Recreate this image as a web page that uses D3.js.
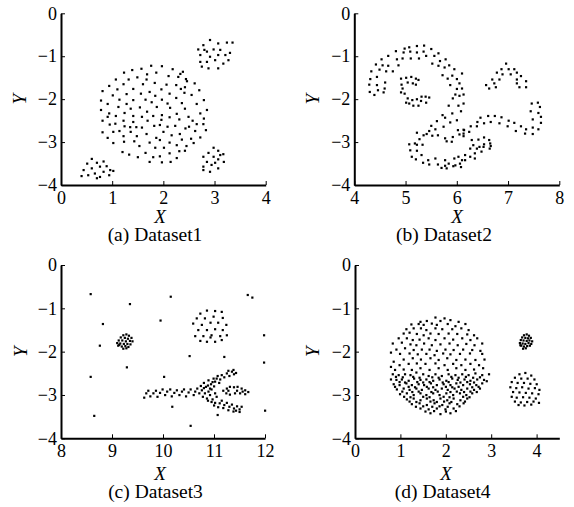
<!DOCTYPE html>
<html>
<head>
<meta charset="utf-8">
<script src="https://cdn.jsdelivr.net/npm/d3@7"></script>
<style>
  body { margin: 0; background: #fff; }
  text { font-family: "Liberation Serif", "Times New Roman", serif; fill: #000; }
</style>
</head>
<body>
<script>
const yTicks = [0, -1, -2, -3, -4];
const xTicks1 = [0, 1, 2, 3, 4];
const xTicks2 = [4, 5, 6, 7, 8];
const xTicks3 = [8, 9, 10, 11, 12];
const xTicks4 = [0, 1, 2, 3, 4];

// Dataset1: big disc + three small blobs
const dataset1 = [
  [1.76,-1.22],[1.97,-1.23],[1.39,-1.32],[1.57,-1.29],[2.18,-1.30],[1.23,-1.38],[1.68,-1.42],[1.86,-1.38],
  [2.38,-1.36],[1.32,-1.54],[1.49,-1.49],[2.10,-1.46],[2.29,-1.48],[1.07,-1.54],[1.67,-1.54],[2.44,-1.53],
  [0.94,-1.69],[1.22,-1.65],[1.60,-1.65],[1.83,-1.62],[2.06,-1.66],[2.25,-1.67],[1.10,-1.77],[1.41,-1.76],
  [1.73,-1.83],[1.96,-1.77],[2.34,-1.76],[0.81,-1.81],[1.01,-1.91],[1.28,-1.88],[1.56,-1.87],[1.84,-1.92],
  [2.12,-1.87],[2.41,-1.85],[0.78,-2.03],[1.14,-2.01],[1.41,-2.02],[1.65,-2.01],[1.97,-2.01],[2.25,-1.97],
  [0.91,-2.11],[1.28,-2.11],[1.77,-2.07],[2.08,-2.10],[2.36,-2.09],[0.78,-2.25],[1.12,-2.18],[1.36,-2.22],
  [1.54,-2.19],[1.87,-2.18],[2.13,-2.20],[2.42,-2.22],[1.68,-2.29],[0.94,-2.33],[1.24,-2.32],[1.41,-2.39],
  [1.97,-2.37],[2.26,-2.34],[1.80,-2.39],[0.91,-2.41],[1.07,-2.39],[1.58,-2.41],[2.12,-2.42],[2.49,-2.41],
  [0.81,-2.50],[1.22,-2.50],[1.41,-2.53],[1.69,-2.50],[1.96,-2.48],[2.31,-2.47],[0.95,-2.59],[1.06,-2.57],
  [1.35,-2.65],[1.58,-2.66],[1.82,-2.62],[2.08,-2.64],[2.50,-2.64],[1.24,-2.63],[1.47,-2.65],[1.93,-2.60],
  [2.23,-2.62],[2.43,-2.68],[0.81,-2.77],[1.02,-2.76],[1.14,-2.74],[1.36,-2.76],[1.67,-2.81],[2.00,-2.76],
  [2.16,-2.84],[2.32,-2.81],[0.91,-2.90],[1.22,-2.86],[1.48,-2.86],[1.86,-2.90],[2.36,-2.94],[1.02,-3.02],
  [1.23,-2.99],[1.43,-2.98],[1.73,-3.01],[1.93,-2.95],[2.12,-3.01],[2.26,-3.07],[1.53,-3.09],[1.84,-3.13],
  [2.01,-3.13],[2.45,-3.09],[1.20,-3.23],[1.33,-3.29],[1.65,-3.25],[2.12,-3.26],[2.31,-3.21],[1.50,-3.35],
  [1.80,-3.35],[1.93,-3.33],[2.26,-3.37],[1.73,-3.46],[1.97,-3.47],[2.14,-3.46],
  [2.33,-1.41],[2.46,-1.58],[2.61,-1.63],[2.70,-1.79],[2.55,-1.90],[2.42,-1.72],[2.79,-2.02],[2.65,-2.11],
  [2.85,-2.25],[2.72,-2.33],[2.57,-2.50],[2.79,-2.45],[2.65,-2.58],[2.83,-2.72],[2.62,-2.74],[2.72,-2.89],
  [2.54,-2.92],[2.42,-3.20],[2.59,-3.02],[2.78,-2.58],
  [2.91,-0.62],[2.78,-0.74],[3.07,-0.70],[3.24,-0.68],[3.35,-0.68],[2.68,-0.84],[2.85,-0.89],[2.98,-0.84],
  [3.11,-0.85],[3.30,-0.92],[2.72,-0.97],[2.91,-1.01],[3.07,-0.97],[3.21,-0.97],[2.72,-1.13],[2.85,-1.13],
  [3.01,-1.09],[3.17,-1.17],[2.75,-1.24],[2.88,-1.28],[3.07,-1.28],[3.27,-1.09],[2.80,-0.85],
  [2.98,-3.13],[3.07,-3.20],[2.88,-3.25],[3.17,-3.28],[2.78,-3.34],[2.98,-3.34],[3.07,-3.40],[2.85,-3.46],
  [3.18,-3.46],[2.78,-3.57],[2.94,-3.53],[3.07,-3.61],[2.78,-3.65],[2.91,-3.69],[3.01,-3.48],[3.11,-3.30],
  [0.60,-3.39],[0.51,-3.50],[0.70,-3.48],[0.83,-3.45],[0.89,-3.56],[0.76,-3.57],[0.60,-3.61],[0.44,-3.65],
  [0.96,-3.65],[0.83,-3.69],[0.66,-3.73],[0.53,-3.77],[0.40,-3.79],[0.76,-3.81],[0.94,-3.77],[1.02,-3.67],
  [0.70,-3.84]
];

// Dataset2: spiral hook, S band and small arch
const dataset2 = [
  [4.98,-0.82],[5.07,-0.79],[5.22,-0.76],[5.36,-0.75],[5.09,-0.89],[5.22,-0.91],[5.35,-0.89],[5.50,-0.83],
  [5.64,-0.93],[5.56,-0.99],[5.40,-0.99],[5.26,-1.05],[5.10,-1.05],[4.94,-1.05],[4.81,-0.88],[4.66,-0.99],
  [4.83,-1.07],[4.96,-0.91],[4.53,-1.07],[4.42,-1.19],[4.55,-1.21],[4.66,-1.22],[4.33,-1.35],[4.49,-1.31],
  [4.62,-1.35],[4.75,-1.35],[4.86,-1.21],[5.52,-1.17],[5.67,-1.11],[5.78,-1.07],[5.64,-1.22],[5.76,-1.26],
  [5.85,-1.21],[5.95,-1.30],[5.72,-1.44],[5.82,-1.52],[5.91,-1.45],[6.00,-1.53],[6.10,-1.40],[5.87,-1.67],
  [6.00,-1.76],[6.10,-1.75],[6.05,-1.63],[5.97,-1.89],[6.05,-1.92],[6.13,-1.89],[5.92,-1.98],[6.03,-2.15],
  [6.13,-2.10],[6.08,-2.28],[5.84,-2.15],[5.72,-2.37],[5.91,-2.33],[5.77,-2.43],[5.87,-2.54],[6.00,-2.49],
  [5.61,-2.51],[5.74,-2.64],[5.50,-2.62],[5.58,-2.70],[5.46,-2.74],[5.63,-2.84],[5.52,-2.85],[5.41,-2.81],
  [5.22,-2.78],[5.35,-2.84],[5.27,-2.93],[5.18,-3.03],[5.07,-3.05],[5.22,-3.06],[5.33,-3.06],[5.09,-3.19],
  [5.22,-3.20],[5.12,-3.34],[5.31,-3.30],[5.44,-3.42],[5.58,-3.38],[5.46,-3.52],[5.63,-3.52],[5.77,-3.42],
  [5.77,-3.55],[5.95,-3.38],[5.97,-3.54],[6.10,-3.42],[6.08,-3.58],[5.80,-2.98],[5.90,-2.99],[5.77,-2.91],
  [5.92,-2.88],[6.05,-2.82],[6.02,-2.72],[6.13,-2.71],[6.13,-2.80],[5.20,-3.40],[5.34,-3.48],[5.70,-3.60],
  [5.84,-3.50],
  [4.31,-1.53],[4.29,-1.66],[4.30,-1.83],[4.39,-1.90],[4.44,-1.67],[4.46,-1.79],[4.57,-1.84],[4.59,-1.75],
  [4.60,-1.61],[4.44,-1.48],
  [4.91,-1.52],[5.01,-1.50],[5.11,-1.48],[5.20,-1.52],[5.25,-1.55],[4.92,-1.66],[5.04,-1.61],[5.14,-1.63],
  [5.20,-1.66],[4.94,-1.75],[4.98,-1.87],[4.91,-1.84],[5.04,-1.98],[5.13,-2.02],[5.22,-2.00],[5.31,-1.94],
  [5.39,-1.94],[5.46,-1.96],[5.40,-2.08],[5.30,-2.04],[5.07,-2.10],[5.15,-2.15],[5.25,-2.15],[5.01,-2.08],
  [6.96,-1.17],[6.87,-1.30],[7.01,-1.30],[7.12,-1.30],[6.78,-1.38],[6.89,-1.42],[7.05,-1.42],[7.17,-1.38],
  [7.25,-1.46],[6.69,-1.54],[6.83,-1.54],[7.17,-1.54],[6.73,-1.63],[6.57,-1.67],[6.63,-1.75],[6.76,-1.72],
  [7.17,-1.63],[7.35,-1.58],[7.22,-1.72],[7.35,-1.72],
  [7.46,-2.10],[7.58,-2.08],[7.62,-2.18],[7.44,-2.28],[7.59,-2.32],[7.64,-2.41],[7.48,-2.47],[7.64,-2.55],
  [7.48,-2.66],[7.59,-2.70],[7.35,-2.70],[7.48,-2.81],
  [6.46,-2.43],[6.61,-2.39],[6.74,-2.39],[6.87,-2.42],[7.01,-2.50],[7.12,-2.55],[7.25,-2.63],[6.40,-2.53],
  [6.53,-2.56],[6.66,-2.53],[6.83,-2.56],[6.99,-2.63],[7.15,-2.74],[6.27,-2.63],[6.39,-2.63],[6.24,-2.76],
  [6.14,-2.72],[6.13,-2.86],[7.33,-2.80],
  [6.53,-2.89],[6.42,-2.94],[6.63,-2.95],[6.53,-3.05],[6.66,-3.09],[6.32,-3.07],[6.44,-3.11],
  [6.29,-2.95],[6.65,-3.03],[6.64,-3.15],[6.52,-3.11],[6.39,-3.15],[6.48,-3.22],[6.35,-3.26],[6.26,-3.34],
  [6.35,-3.38],[6.16,-3.42],[6.06,-3.50],[6.16,-3.30],[6.26,-3.15],[5.93,-3.56],[5.80,-3.61],[6.03,-3.34]
];

// Dataset3: noise points, small dense blob, disc and forked band
const dataset3 = [
  [8.58,-0.67],[10.15,-0.73],[11.66,-0.69],[11.75,-0.75],[9.35,-0.90],[8.82,-1.36],[9.95,-1.28],[8.76,-1.86],
  [9.29,-2.36],[8.58,-2.58],[10.02,-2.58],[10.52,-2.10],[11.20,-2.12],[11.98,-1.62],[11.98,-2.25],[8.65,-3.48],
  [10.18,-3.27],[10.54,-3.71],[11.07,-3.46],[12.00,-3.36],
  [9.22,-1.62],[9.28,-1.60],[9.33,-1.63],[9.17,-1.67],[9.25,-1.68],[9.31,-1.70],[9.38,-1.68],[9.13,-1.74],
  [9.20,-1.74],[9.27,-1.76],[9.35,-1.75],[9.40,-1.76],[9.10,-1.80],[9.16,-1.81],[9.23,-1.82],[9.30,-1.82],
  [9.36,-1.83],[9.12,-1.86],[9.19,-1.88],[9.26,-1.87],[9.32,-1.89],[9.22,-1.93],[9.14,-1.84],[9.28,-1.92],
  [10.73,-1.12],[10.86,-1.05],[11.02,-1.06],[11.15,-1.08],[10.66,-1.23],[10.82,-1.23],[10.99,-1.19],[11.17,-1.22],
  [10.59,-1.35],[10.76,-1.38],[10.93,-1.33],[11.08,-1.33],[11.24,-1.38],[10.69,-1.50],[10.86,-1.50],[11.02,-1.48],
  [11.17,-1.50],[10.63,-1.64],[10.79,-1.64],[10.95,-1.62],[11.12,-1.64],[11.25,-1.62],[10.73,-1.75],[10.86,-1.77],
  [11.02,-1.77],[11.15,-1.73],[10.93,-1.67],
  [9.63,-3.06],[9.67,-2.96],[9.71,-2.90],[9.75,-3.03],[9.81,-2.96],[9.86,-2.90],[9.89,-3.04],[9.94,-2.95],
  [9.99,-2.87],[10.04,-3.00],[10.08,-2.92],[10.14,-2.87],[10.17,-3.03],[10.22,-2.95],[10.27,-2.89],[10.32,-3.00],
  [10.37,-2.92],[10.41,-2.87],[10.45,-3.03],[10.50,-2.94],[10.54,-2.87],[10.60,-3.00],[10.63,-2.92],[10.67,-2.85],
  [10.71,-2.96],[10.76,-2.89],[10.78,-3.04],
  [10.74,-2.79],[10.80,-2.72],[10.84,-2.81],[10.89,-2.66],[10.94,-2.75],[10.99,-2.62],[11.02,-2.69],[11.07,-2.56],
  [11.12,-2.64],[11.15,-2.54],[11.20,-2.59],[11.25,-2.50],[11.30,-2.56],[11.35,-2.46],[11.39,-2.52],[11.43,-2.49],
  [11.28,-2.44],[11.38,-2.42],[10.89,-2.92],[10.95,-2.87],[10.80,-2.84],[10.88,-2.78],[10.97,-2.70],[11.05,-2.62],
  [11.10,-2.72],[11.00,-2.80],[10.92,-2.85],
  [10.82,-2.96],[10.86,-3.08],[10.92,-3.00],[10.97,-3.10],[11.02,-2.96],[11.05,-3.04],
  [10.95,-3.16],[11.02,-3.18],[11.11,-3.19],[11.15,-3.13],[11.20,-3.23],[11.25,-3.18],[11.30,-3.27],[11.35,-3.22],
  [11.39,-3.31],[11.45,-3.26],[11.50,-3.33],[11.54,-3.27],[11.43,-3.36],[11.50,-3.39],[10.88,-3.13],[11.00,-3.24],
  [11.08,-3.28],[11.18,-3.30],[11.28,-3.35],[11.38,-3.38],
  [11.18,-2.90],[11.25,-2.85],[11.31,-2.81],[11.39,-2.82],[11.46,-2.81],[11.54,-2.85],[11.61,-2.89],[11.67,-2.93],
  [11.61,-2.98],[11.51,-2.96],[11.41,-2.96],[11.31,-2.99],[11.24,-2.96],[11.28,-2.90],[11.45,-2.90],[11.56,-2.92]
];

// Dataset4: big disc (denser lower half), small dense blob, small disc
const dataset4 = [
  [1.77,-1.21],[1.97,-1.23],[1.44,-1.31],[1.58,-1.29],[1.88,-1.29],[2.10,-1.27],[2.28,-1.31],
  [1.24,-1.37],[1.40,-1.36],[1.51,-1.38],[1.69,-1.35],[1.80,-1.38],[2.04,-1.36],[2.21,-1.41],[2.43,-1.36],
  [1.13,-1.48],[1.29,-1.46],[1.45,-1.46],[1.57,-1.50],[1.77,-1.46],[1.92,-1.48],[2.14,-1.48],[2.34,-1.46],[2.50,-1.50],
  [1.07,-1.58],[1.20,-1.56],[1.36,-1.59],[1.51,-1.62],[1.66,-1.58],[1.84,-1.59],[2.06,-1.58],[2.25,-1.59],[2.47,-1.60],[2.62,-1.62],
  [0.96,-1.69],[1.14,-1.69],[1.27,-1.73],[1.42,-1.72],[1.62,-1.69],[1.77,-1.73],[1.97,-1.69],[2.16,-1.72],[2.36,-1.69],[2.54,-1.73],[2.69,-1.69],
  [0.83,-1.81],[1.03,-1.79],[1.22,-1.83],[1.35,-1.85],[1.52,-1.81],[1.69,-1.85],[1.88,-1.83],[2.08,-1.81],[2.26,-1.85],[2.45,-1.82],[2.63,-1.85],[2.80,-1.81],
  [0.91,-1.95],[1.10,-1.92],[1.29,-1.96],[1.47,-1.95],[1.64,-1.95],[1.80,-1.98],[1.99,-1.95],[2.17,-1.96],[2.38,-1.95],[2.58,-1.96],[2.76,-1.98],
  [0.79,-2.02],[0.99,-2.05],[1.20,-2.04],[1.38,-2.06],[1.57,-2.05],[1.75,-2.08],[1.94,-2.04],[2.10,-2.06],[2.31,-2.05],[2.53,-2.04],[2.80,-2.05],
  [0.85,-2.23],[1.07,-2.18],[1.27,-2.15],[1.45,-2.18],[1.66,-2.15],[1.84,-2.19],[2.03,-2.15],[2.23,-2.19],[2.43,-2.18],[2.65,-2.19],[2.85,-2.18],
  [0.79,-2.35],[0.98,-2.31],[1.18,-2.28],[1.36,-2.27],[1.55,-2.28],[1.77,-2.27],[1.97,-2.31],[2.16,-2.28],[2.34,-2.31],[2.54,-2.28],[2.73,-2.31],
  [0.88,-2.42],[1.07,-2.41],[1.25,-2.42],[1.44,-2.38],[1.64,-2.42],[1.84,-2.38],[2.04,-2.42],[2.23,-2.38],[2.43,-2.42],[2.62,-2.41],[2.82,-2.38],
  [0.83,-2.52],[0.96,-2.54],[1.10,-2.52],[1.22,-2.54],[1.35,-2.48],[1.50,-2.52],[1.62,-2.56],[1.77,-2.52],[1.91,-2.56],[2.06,-2.52],[2.21,-2.54],[2.36,-2.52],[2.50,-2.54],[2.65,-2.50],[2.80,-2.54],[2.95,-2.52],
  [0.79,-2.64],[0.91,-2.65],[1.03,-2.64],[1.18,-2.67],[1.30,-2.62],[1.44,-2.65],[1.57,-2.64],[1.72,-2.67],[1.86,-2.64],[2.01,-2.67],[2.14,-2.62],[2.26,-2.65],[2.41,-2.64],[2.54,-2.67],[2.69,-2.64],[2.84,-2.65],
  [0.85,-2.75],[0.98,-2.77],[1.13,-2.73],[1.25,-2.77],[1.40,-2.75],[1.52,-2.77],[1.67,-2.73],[1.80,-2.77],[1.95,-2.75],[2.10,-2.77],[2.23,-2.73],[2.38,-2.77],[2.53,-2.75],[2.67,-2.77],[2.80,-2.73],
  [0.92,-2.87],[1.07,-2.85],[1.20,-2.88],[1.35,-2.85],[1.47,-2.88],[1.62,-2.85],[1.77,-2.88],[1.91,-2.85],[2.04,-2.88],[2.19,-2.85],[2.34,-2.88],[2.47,-2.85],[2.62,-2.88],[2.75,-2.85],
  [0.99,-2.98],[1.14,-2.96],[1.29,-3.00],[1.44,-2.96],[1.57,-3.00],[1.72,-2.96],[1.86,-3.00],[2.01,-2.96],[2.16,-3.00],[2.31,-2.96],[2.45,-3.00],[2.58,-2.96],
  [1.14,-3.10],[1.29,-3.08],[1.44,-3.12],[1.58,-3.08],[1.73,-3.12],[1.88,-3.08],[2.03,-3.12],[2.17,-3.08],[2.32,-3.12],[2.47,-3.08],
  [1.25,-3.21],[1.42,-3.19],[1.58,-3.23],[1.75,-3.19],[1.92,-3.23],[2.08,-3.19],[2.25,-3.21],[2.39,-3.19],
  [1.44,-3.31],[1.62,-3.33],[1.80,-3.31],[1.99,-3.33],[2.17,-3.31],
  [1.66,-3.42],[1.88,-3.44],[2.10,-3.42],
  [0.90,-2.58],[1.05,-2.59],[1.28,-2.58],[1.42,-2.60],[1.70,-2.59],[1.84,-2.60],[2.12,-2.58],[2.28,-2.60],[2.44,-2.58],[2.60,-2.60],[2.75,-2.59],
  [0.98,-2.70],[1.10,-2.71],[1.37,-2.70],[1.50,-2.71],[1.64,-2.70],[1.93,-2.71],[2.06,-2.70],[2.32,-2.71],[2.47,-2.70],[2.62,-2.71],[2.90,-2.68],
  [0.88,-2.81],[1.18,-2.81],[1.32,-2.82],[1.58,-2.81],[1.72,-2.82],[2.00,-2.81],[2.14,-2.82],[2.28,-2.81],[2.58,-2.82],[2.72,-2.81],
  [1.04,-2.92],[1.26,-2.93],[1.40,-2.92],[1.68,-2.93],[1.82,-2.92],[2.10,-2.93],[2.24,-2.92],[2.40,-2.93],[2.54,-2.92],[2.68,-2.93],
  [1.08,-3.04],[1.22,-3.05],[1.50,-3.04],[1.64,-3.05],[1.95,-3.04],[2.08,-3.05],[2.38,-3.04],[2.52,-3.05],
  [1.20,-3.15],[1.35,-3.16],[1.66,-3.15],[1.80,-3.16],[1.96,-3.15],[2.12,-3.16],[2.42,-3.15],
  [1.34,-3.27],[1.50,-3.26],[1.70,-3.27],[1.86,-3.26],[2.04,-3.27],[2.30,-3.26],
  [1.55,-3.38],[1.74,-3.37],[2.00,-3.38],[2.22,-3.37],
  [3.72,-1.62],[3.78,-1.60],[3.83,-1.63],[3.68,-1.67],[3.75,-1.68],[3.81,-1.69],[3.87,-1.68],[3.65,-1.73],
  [3.71,-1.74],[3.78,-1.75],[3.84,-1.74],[3.90,-1.76],[3.63,-1.80],[3.69,-1.81],[3.75,-1.82],[3.82,-1.80],
  [3.88,-1.82],[3.66,-1.86],[3.72,-1.88],[3.79,-1.87],[3.85,-1.86],[3.70,-1.93],[3.76,-1.92],[3.64,-1.85],
  [3.62,-2.52],[3.75,-2.49],[3.88,-2.55],[3.52,-2.60],[3.66,-2.62],[3.80,-2.62],[3.95,-2.64],[3.45,-2.70],
  [3.58,-2.72],[3.72,-2.72],[3.86,-2.74],[4.00,-2.75],[3.42,-2.82],[3.55,-2.84],[3.68,-2.82],[3.82,-2.85],
  [3.96,-2.84],[4.06,-2.88],[3.48,-2.93],[3.62,-2.94],[3.76,-2.95],[3.90,-2.96],[4.04,-2.98],[3.45,-3.04],
  [3.56,-3.06],[3.70,-3.05],[3.84,-3.06],[3.98,-3.08],[3.52,-3.15],[3.65,-3.17],[3.79,-3.16],[3.93,-3.15],
  [4.05,-3.18],[3.60,-3.23],[3.73,-3.24],[3.88,-3.22]
];

const panels = [
  { caption: "(a) Dataset1", pts: dataset1, xDomain: [0, 4], xTicks: xTicks1,
    left: 61, right: 265.7, top: 13.3, bottom: 185, xLabelX: 160, xLabelDy: 37.5, capX: 155, capDy: 55.5, yLabelX: 19 },
  { caption: "(b) Dataset2", pts: dataset2, xDomain: [4, 8], xTicks: xTicks2,
    left: 354.3, right: 559.3, top: 13.3, bottom: 185, xLabelX: 457, xLabelDy: 37.5, capX: 444, capDy: 55.5, yLabelX: 312 },
  { caption: "(c) Dataset3", pts: dataset3, xDomain: [8, 12], xTicks: xTicks3,
    left: 61, right: 265, top: 265, bottom: 438.3, xLabelX: 160, xLabelDy: 41.5, capX: 155.5, capDy: 60, yLabelX: 19.5 },
  { caption: "(d) Dataset4", pts: dataset4, xDomain: [0, 4.5], xTicks: xTicks4,
    left: 355, right: 559.3, top: 265, bottom: 438.3, xLabelX: 446, xLabelDy: 41.5, capX: 442.7, capDy: 60, yLabelX: 312 }
];

const svg = d3.select("body").append("svg")
  .attr("width", 574)
  .attr("height", 507);

panels.forEach(p => {
  const x = d3.scaleLinear().domain(p.xDomain).range([p.left, p.right]);
  const y = d3.scaleLinear().domain([-4, 0]).range([p.bottom, p.top]);

  const g = svg.append("g");

  g.selectAll(".pt")
    .data(p.pts)
    .join("rect")
      .attr("class", "pt")
      .attr("x", d => x(d[0]) - 1)
      .attr("y", d => y(d[1]) - 1)
      .attr("width", 2.2)
      .attr("height", 2.2)
      .attr("fill", "#000");

  const ax = g.append("g")
    .attr("transform", `translate(0,${p.bottom})`)
    .call(d3.axisBottom(x).tickValues(p.xTicks).tickFormat(d3.format("d"))
      .tickSizeInner(-4).tickSizeOuter(0).tickPadding(6));

  const ay = g.append("g")
    .attr("transform", `translate(${p.left},0)`)
    .call(d3.axisLeft(y).tickValues(yTicks).tickFormat(d3.format("d"))
      .tickSizeInner(-4).tickSizeOuter(0).tickPadding(4));

  [ax, ay].forEach(a => {
    a.select(".domain").attr("stroke", "#000").attr("stroke-width", 2);
    a.selectAll(".tick line").attr("stroke", "#000").attr("stroke-width", 1);
    a.selectAll("text")
      .attr("font-family", "Liberation Serif, Times New Roman, serif")
      .attr("font-size", 18)
      .attr("fill", "#000");
  });

  g.append("text")
    .attr("x", p.xLabelX)
    .attr("y", p.bottom + p.xLabelDy)
    .attr("text-anchor", "middle")
    .attr("font-size", 19)
    .attr("font-style", "italic")
    .text("X");

  g.append("text")
    .attr("transform", `translate(${p.yLabelX + 7},${(p.top + p.bottom) / 2}) rotate(-90)`)
    .attr("text-anchor", "middle")
    .attr("font-size", 19)
    .attr("font-style", "italic")
    .text("Y");

  g.append("text")
    .attr("x", p.capX)
    .attr("y", p.bottom + p.capDy)
    .attr("text-anchor", "middle")
    .attr("font-size", 19.5)
    .text(p.caption);
});
</script>
</body>
</html>
